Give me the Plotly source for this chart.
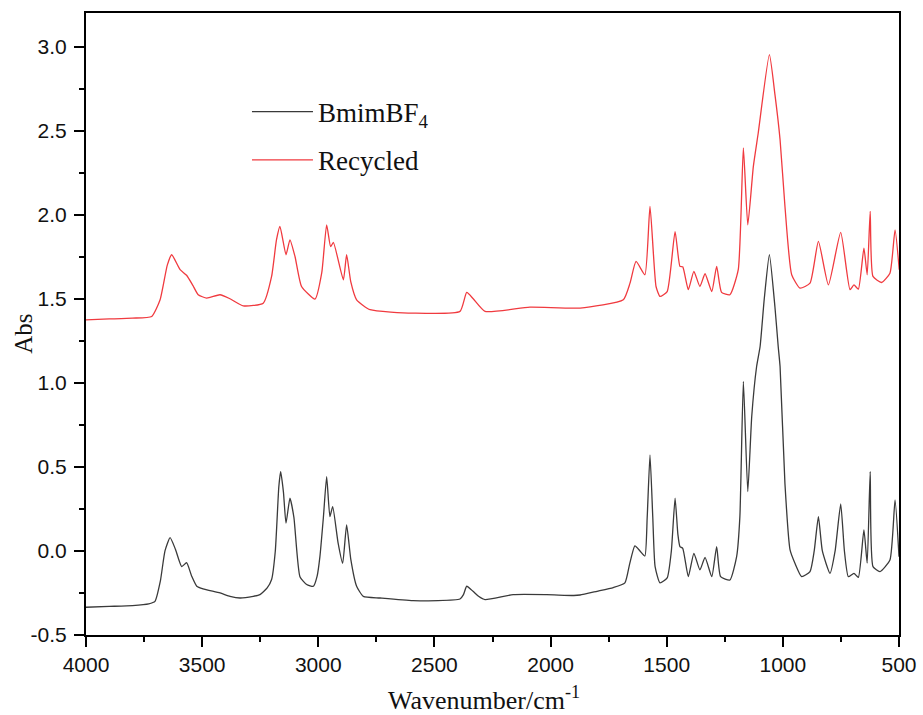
import plotly.graph_objects as go

# ---- data ----
bmim_wn = [4000, 3900, 3800, 3730, 3703, 3680, 3660, 3638, 3615, 3588, 3567, 3545, 3523, 3496,
           3423, 3380, 3337, 3280, 3251, 3220, 3201, 3185, 3170, 3162, 3150, 3139, 3122, 3105,
           3079, 3050, 3021, 3005, 2993, 2978, 2964, 2950, 2938, 2915, 2895, 2878, 2860, 2835,
           2806, 2734, 2592, 2390, 2375, 2361, 2334, 2310, 2282, 2161, 2017, 1900, 1873, 1800,
           1730, 1680, 1660, 1637, 1615, 1594, 1584, 1572, 1560, 1550, 1529, 1498, 1480, 1464,
           1452, 1443, 1431, 1407, 1383, 1357, 1335, 1306, 1285, 1268, 1228, 1199, 1185, 1170,
           1151, 1134, 1113, 1098, 1080, 1058, 1034, 1020, 1012, 991, 969, 948, 919, 883, 865,
           847, 830, 797, 775, 751, 735, 718, 694, 675, 651, 637, 624, 612, 582, 539, 517, 500]
bmim_abs = [-0.335, -0.33, -0.325, -0.315, -0.30, -0.18, 0.0, 0.079, 0.01, -0.093, -0.07, -0.15,
            -0.21, -0.226, -0.25, -0.27, -0.28, -0.27, -0.26, -0.22, -0.17, 0.0, 0.38, 0.472,
            0.35, 0.165, 0.314, 0.2, -0.153, -0.2, -0.21, -0.15, -0.034, 0.2, 0.442, 0.204,
            0.264, 0.05, -0.073, 0.155, -0.05, -0.21, -0.27, -0.28, -0.296, -0.286, -0.26,
            -0.21, -0.24, -0.27, -0.29, -0.26, -0.26, -0.265, -0.262, -0.24, -0.218, -0.19,
            -0.08, 0.03, 0.0, -0.03, 0.2, 0.571, 0.2, -0.093, -0.19, -0.16, 0.0, 0.314, 0.1,
            0.026, 0.016, -0.153, -0.014, -0.113, -0.038, -0.153, 0.026, -0.153, -0.173,
            -0.034, 0.204, 1.008, 0.353, 0.80, 1.097, 1.216, 1.5, 1.762, 1.45, 1.216, 1.097,
            0.40, 0.006, -0.073, -0.153, -0.123, 0.0, 0.204, 0.0, -0.133, 0.0, 0.28, 0.0,
            -0.153, -0.133, -0.157, 0.125, -0.073, 0.472, -0.093, -0.123, -0.054, 0.304, -0.034]

rec_wn = [4000, 3900, 3800, 3717, 3681, 3650, 3631, 3595, 3567, 3540, 3517, 3480, 3423, 3380,
          3323, 3237, 3201, 3180, 3165, 3139, 3122, 3100, 3072, 3014, 2985, 2964, 2947, 2935,
          2892, 2878, 2860, 2835, 2777, 2592, 2390, 2361, 2333, 2282, 2089, 1873, 1687, 1658,
          1632, 1594, 1572, 1546, 1529, 1498, 1464, 1443, 1431, 1407, 1383, 1357, 1335, 1306,
          1285, 1264, 1228, 1192, 1170, 1151, 1127, 1106, 1058, 1034, 1012, 991, 962, 926,
          883, 847, 804, 751, 711, 694, 675, 651, 637, 624, 612, 575, 539, 517, 499]
rec_abs = [1.375, 1.38, 1.385, 1.395, 1.494, 1.70, 1.762, 1.673, 1.64, 1.58, 1.524, 1.504,
           1.524, 1.50, 1.458, 1.474, 1.633, 1.85, 1.93, 1.762, 1.851, 1.75, 1.573, 1.498,
           1.655, 1.940, 1.81, 1.835, 1.613, 1.762, 1.6, 1.494, 1.435, 1.415, 1.425, 1.538,
           1.50, 1.425, 1.45, 1.445, 1.494, 1.593, 1.722, 1.643, 2.05, 1.573, 1.514, 1.543,
           1.90, 1.693, 1.69, 1.554, 1.663, 1.573, 1.649, 1.543, 1.693, 1.538, 1.524, 1.673,
           2.397, 1.94, 2.288, 2.486, 2.952, 2.714, 2.446, 2.05, 1.643, 1.563, 1.593, 1.841,
           1.583, 1.895, 1.554, 1.583, 1.557, 1.801, 1.643, 2.02, 1.633, 1.597, 1.652, 1.91,
           1.673]

x_ticks = [4000, 3500, 3000, 2500, 2000, 1500, 1000, 500]
y_ticks = [-0.5, 0.0, 0.5, 1.0, 1.5, 2.0, 2.5, 3.0]
y_tick_text = ["-0.5", "0.0", "0.5", "1.0", "1.5", "2.0", "2.5", "3.0"]

fig = go.Figure()
fig.add_trace(go.Scatter(x=bmim_wn, y=bmim_abs, mode="lines", name="BmimBF<sub>4</sub>",
                         legendgroup="a",
                         line=dict(color="#3a3a3a", width=1.3, shape="spline", smoothing=0.5)))
fig.add_trace(go.Scatter(x=rec_wn, y=rec_abs, mode="lines", name="Recycled",
                         legendgroup="b",
                         line=dict(color="#f03a3f", width=1.3, shape="spline", smoothing=0.5)))

axis_common = dict(showline=True, linecolor="black", linewidth=2, mirror=True,
                   ticks="outside", tickwidth=2, ticklen=10, tickcolor="black",
                   showgrid=False, zeroline=False, automargin=False,
                   tickfont=dict(family="Liberation Sans, Arial", size=21, color="#111"))

fig.update_xaxes(range=[4000, 500], tickvals=x_ticks,
                 minor=dict(ticks="outside", ticklen=5, tickwidth=2, tickcolor="black", dtick=250),
                 **axis_common)
fig.update_yaxes(range=[-0.5, 3.2], tickvals=y_ticks, ticktext=y_tick_text,
                 ticklabelstandoff=3,
                 minor=dict(ticks="outside", ticklen=5, tickwidth=2, tickcolor="black", dtick=0.25),
                 **axis_common)

fig.update_layout(
    width=923, height=715,
    margin=dict(l=86, r=24, t=13, b=80),
    plot_bgcolor="white", paper_bgcolor="white",
    showlegend=True,
    legend=dict(x=0.198, y=0.802, xanchor="left", yanchor="middle",
                bgcolor="rgba(0,0,0,0)", itemwidth=61, tracegroupgap=10,
                font=dict(family="Liberation Serif, Times New Roman", size=27, color="#111")),
    annotations=[
        dict(text="Wavenumber/cm<sup>-1</sup>", xref="paper", yref="paper",
             x=0.49, y=-0.102, xanchor="center", yanchor="middle", showarrow=False,
             font=dict(family="Liberation Serif, Times New Roman", size=26, color="#111")),
        dict(text="Abs", xref="paper", yref="paper", textangle=-90,
             x=-0.077, y=0.485, xanchor="center", yanchor="middle", showarrow=False,
             font=dict(family="Liberation Serif, Times New Roman", size=25, color="#111")),
    ],
)

fig.write_html("out.html")
